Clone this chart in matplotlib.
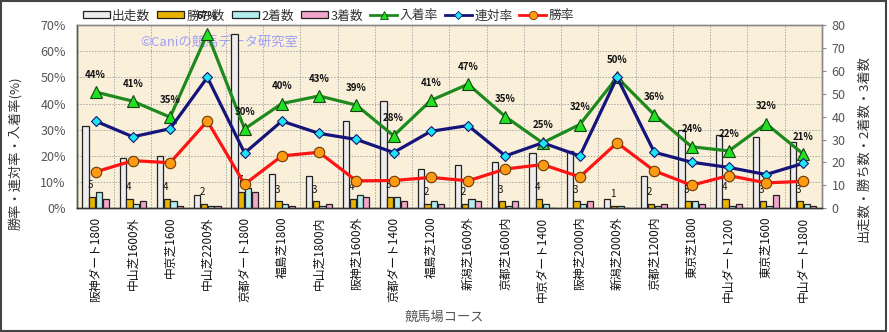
import matplotlib
matplotlib.use("Agg")
import matplotlib.pyplot as plt
from matplotlib.patches import Rectangle
from matplotlib.lines import Line2D
import numpy as np

plt.rcParams['font.family'] = ['Noto Sans CJK JP', 'DejaVu Sans']

courses = ["阪神ダート1800", "中山芝1600外", "中京芝1600", "中山芝2200外", "京都ダート1800",
           "福島芝1800", "中山芝1800内", "阪神芝1600外", "京都ダート1400", "福島芝1200",
           "新潟芝1600外", "京都芝1600内", "中京ダート1400", "阪神芝2000内", "新潟芝2000外",
           "京都芝1200内", "東京芝1800", "中山ダート1200", "東京芝1600", "中山ダート1800"]
runs = [36, 22, 23, 6, 76, 15, 14, 38, 47, 17, 19, 20, 24, 25, 4, 14, 34, 32, 31, 29]
wins = [5, 4, 4, 2, 7, 3, 3, 4, 5, 2, 2, 3, 4, 3, 1, 2, 3, 4, 3, 3]
seconds = [7, 2, 3, 1, 9, 2, 1, 6, 5, 3, 4, 1, 2, 2, 1, 1, 3, 1, 1, 2]
thirds = [4, 3, 1, 1, 7, 1, 2, 5, 3, 2, 3, 3, 0, 3, 0, 2, 2, 2, 6, 1]
win_rate = [13.9, 18.2, 17.4, 33.3, 9.2, 20.0, 21.4, 10.5, 10.6, 11.8,
            10.5, 15.0, 16.7, 12.0, 25.0, 14.3, 8.8, 12.5, 9.7, 10.3]
top2_rate = [33.3, 27.3, 30.4, 50.0, 21.1, 33.3, 28.6, 26.3, 21.3, 29.4,
             31.6, 20.0, 25.0, 20.0, 50.0, 21.4, 17.6, 15.6, 12.9, 17.2]
top3_rate = [44.4, 40.9, 34.8, 66.7, 30.3, 40.0, 42.9, 39.4, 27.7, 41.2,
             47.4, 35.0, 25.0, 32.0, 50.0, 35.7, 23.5, 21.9, 32.3, 20.7]

x = np.arange(len(courses))

fig = plt.figure(figsize=(8.89, 3.32), dpi=100)
fig.patch.set_facecolor("white")
ax = fig.add_axes([0.0866, 0.3726, 0.8380, 0.5521])
ax.set_facecolor("#FAF0DA")
ax2 = ax.twinx()

# counts (right scale) drawn on the lower axes
bw = 0.18
bar_specs = [(runs, "#EDEDED", "出走数"), (wins, "#E8B400", "勝ち数"),
             (seconds, "#B4EDED", "2着数"), (thirds, "#F2A6CC", "3着数")]
for k, (vals, col, lab) in enumerate(bar_specs):
    ax.bar(x + (k - 1.5) * bw, vals, width=bw * 0.92, color=col,
           edgecolor="#222222", linewidth=0.9, zorder=3)

ax.set_xlim(-0.5, len(courses) - 0.5)
ax.set_ylim(0, 80)
ax.yaxis.tick_right()
ax.set_yticks(range(0, 81, 10))
ax.tick_params(axis="y", direction="out", length=3, color="#888888",
               labelsize=9, labelcolor="#555555", pad=4)
ax.yaxis.set_label_position("right")
ax.set_ylabel("出走数・勝ち数・2着数・3着数", rotation=90, fontsize=9.5,
              color="#333333")
ax.yaxis.set_label_coords(1.047, 0.325)

# grid behind bars
for k in range(1, 7):
    ax.axhline(k * 80 / 7, color="#A8A8A8", lw=0.7, ls=(0, (1.5, 1.5)), zorder=1)
for i in range(len(courses) - 1):
    ax.axvline(i + 0.5, color="#A8A8A8", lw=0.7, ls=(0, (1.5, 1.5)), zorder=1)

ax.set_xticks(x)
ax.set_xticklabels(courses, rotation=90, fontsize=8.5, color="#111111")
ax.tick_params(axis="x", length=0, pad=6)
ax.set_xlabel("競馬場コース", fontsize=9.5, color="#555555")
ax.xaxis.set_label_coords(0.4926, -0.56)

for xi, w in zip(x, wins):
    ax.annotate(str(w), (xi - 0.5 * bw, w), xytext=(-1, 8.5),
                textcoords="offset points", ha="center", va="center",
                fontsize=7, color="#111111", zorder=4)

# rates (left scale)
ax2.plot(x, top3_rate, color="#1E8A1E", lw=2.3, marker="^", ms=9,
         mfc="#22E022", mec="#114411", mew=0.8, zorder=5)
ax2.plot(x, top2_rate, color="#14147A", lw=2.3, marker="D", ms=5.5,
         mfc="#1EE6F0", mec="#14147A", mew=0.8, zorder=5)
ax2.plot(x, win_rate, color="#FF1414", lw=2.3, marker="o", ms=7.5,
         mfc="#FF9A14", mec="#6B3A00", mew=0.8, zorder=5)
for xi, r in zip(x, top3_rate):
    ax2.annotate(f"{round(r)}%", (xi, r), xytext=(0, 12.5),
                 textcoords="offset points", ha="center", va="center",
                 fontsize=7, fontweight="bold", color="#111111", zorder=6)

ax2.set_ylim(0, 70)
ax2.yaxis.tick_left()
ax2.yaxis.set_label_position("left")
ax2.set_yticks(range(0, 71, 10))
ax2.set_yticklabels([f"{v}%" for v in range(0, 71, 10)])
ax2.tick_params(axis="y", length=0, labelsize=9, labelcolor="#555555", pad=8)
ax2.set_ylabel("勝率・連対率・入着率(%)", rotation=90, fontsize=9.5,
               color="#333333")
ax2.yaxis.set_label_coords(-0.073, 0.30)

for a in (ax, ax2):
    for s in a.spines.values():
        s.set_color("#8A8A8A")
        s.set_linewidth(1.0)
    a.spines["bottom"].set_color("#333333")
    a.spines["left"].set_color("#555555")

ax.text(0.085, 0.905, "©Caniの競馬データ研究室", transform=ax.transAxes,
        fontsize=9.5, color="#A0A0F5", ha="left", va="center", zorder=2)

# legend row
handles = [Rectangle((0, 0), 1, 1, fc=c, ec="#222222", lw=0.9) for _, c, _ in bar_specs]
handles += [
    Line2D([], [], color="#1E8A1E", lw=2, marker="^", ms=6, mfc="#22E022", mec="#114411", mew=0.6),
    Line2D([], [], color="#14147A", lw=2, marker="D", ms=4, mfc="#1EE6F0", mec="#14147A", mew=0.6),
    Line2D([], [], color="#FF1414", lw=2, marker="o", ms=6, mfc="#FF9A14", mec="#6B3A00", mew=0.6),
]
labels = [s[2] for s in bar_specs] + ["入着率", "連対率", "勝率"]
leg = fig.legend(handles, labels, loc="center left", bbox_to_anchor=(0.093, 0.952),
                 ncol=7, frameon=False, fontsize=9.2, handlelength=2.1,
                 handleheight=0.45, handletextpad=0.2, columnspacing=0.55,
                 borderpad=0, borderaxespad=0)
for t in leg.get_texts():
    t.set_color("#333333")

fig.add_artist(Rectangle((0.0011, 0.0045), 0.9955, 0.9925, transform=fig.transFigure,
                         fill=False, ec="#444444", lw=1.5))

fig.savefig("out.png", dpi=100)
